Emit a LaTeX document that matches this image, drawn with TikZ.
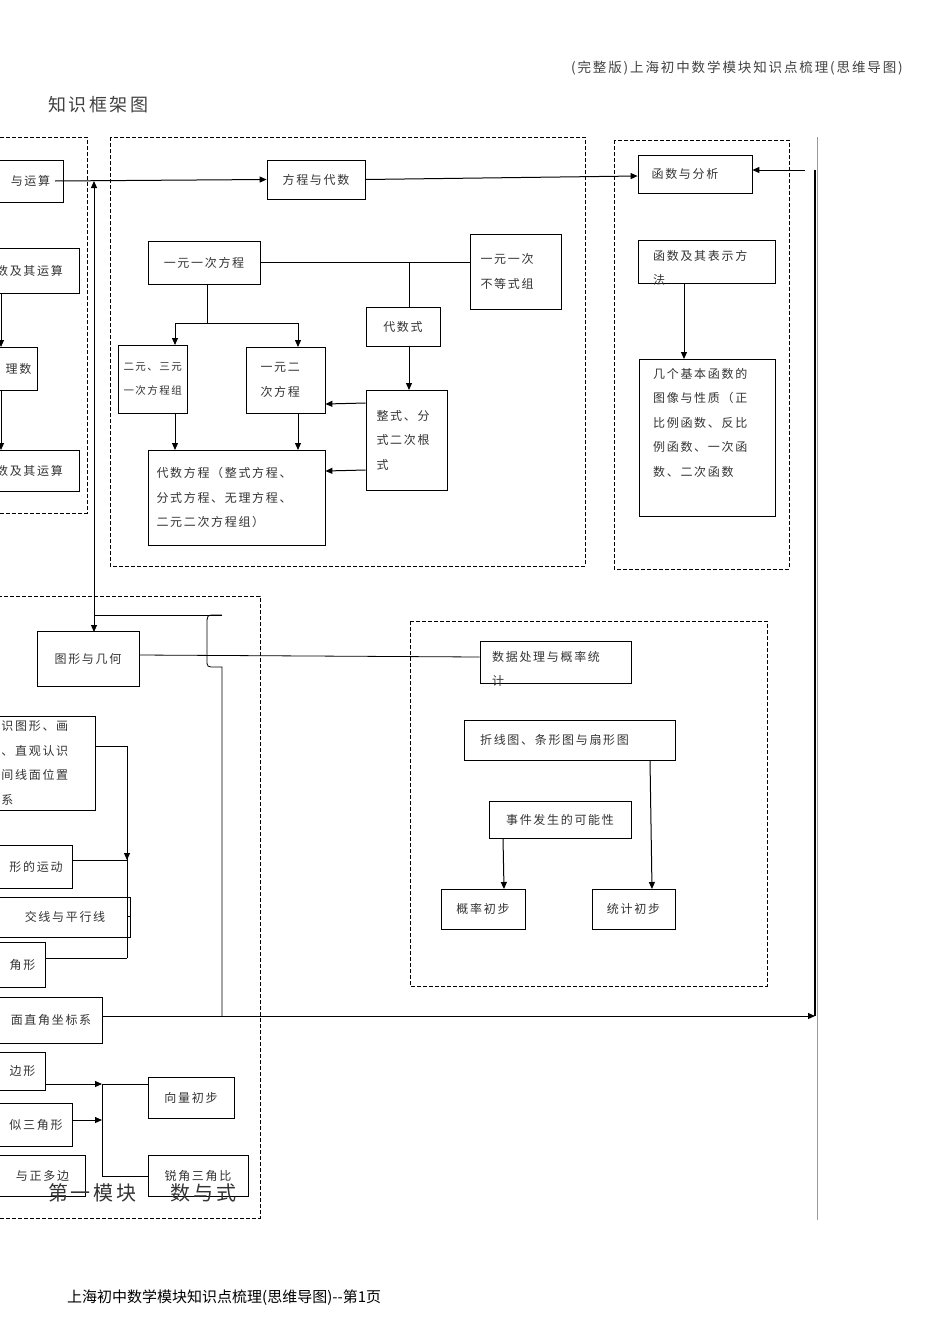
\documentclass[tikz,border=0pt]{standalone}
\usepackage{fontspec}
\setmainfont{Noto Sans CJK SC}
\newfontfamily\cjk{Noto Sans CJK SC}[LetterSpace=14]
\usetikzlibrary{arrows.meta}
\begin{document}
\begin{tikzpicture}[x=1pt,y=-1pt,
  box/.style={draw,line width=0.8pt,inner sep=0pt,font=\cjk\fontsize{12}{24.5}\selectfont\color{black!80}},
  dbox/.style={draw,dashed,line width=0.7pt,dash pattern=on 4pt off 2pt},
  ln/.style={line width=0.8pt},
  ar/.style={line width=1pt,-{Triangle[length=7pt,width=6pt]}},
  txt/.style={inner sep=0pt,font=\cjk\fontsize{12}{24.5}\selectfont\color{black!80},align=left}]
\newcommand\bx[6]{\node[box,minimum width={(#4-#2)*1pt},minimum height={(#5-#3)*1pt}] (#1) at ({(#2+#4)/2},{(#3+#5)/2}) {#6};}
\useasboundingbox (0,0) rectangle (950,1344);
\clip (0,0) rectangle (950,1344);
% titles
\node[anchor=east,inner sep=0pt,font=\cjk\fontsize{13.5}{16}\selectfont\color{black!75}] (hdr) at (903,68) {(完整版)上海初中数学模块知识点梳理(思维导图)};
\node[anchor=west,inner sep=0pt,font=\cjk\fontsize{18}{20}\selectfont\color{black!75}] (ttl) at (48,105) {知识框架图};
\node[anchor=west,inner sep=0pt,font=\fontsize{15}{18}\selectfont] (ftr) at (67,1298) {上海初中数学模块知识点梳理(思维导图)-{}-第1页};
% dashed frames
\draw[dbox] (-20,137) rectangle (87,513);
\draw[dbox] (110,137) rectangle (585,566);
\draw[dbox] (614,140) rectangle (789,569);
\draw[dbox] (-20,596) rectangle (260,1218);
\draw[dbox] (410,621) rectangle (767,986);
\draw[black!40,line width=0.6pt] (817,137) -- (817,1220);
% left column
\bx{ys}{-60}{160}{63}{202}{\hspace*{58pt}与运算}
\bx{s1}{-60}{248}{79}{293}{\hspace*{40pt}数及其运算}
\bx{s2}{-60}{347}{37}{390}{\hspace*{60pt}理数}
\bx{s3}{-60}{450}{79}{491}{\hspace*{40pt}数及其运算}
\draw[ar] (1,293) -- (1,347);
\draw[ar] (1,390) -- (1,450);
% equations
\bx{fc}{267}{160}{365}{199}{方程与代数}
\bx{yy}{148}{241}{260}{284}{一元一次方程}
\bx{bd}{470}{234}{561}{309}{\parbox{70pt}{一元一次\\不等式组}}
\bx{ds}{366}{307}{440}{346}{代数式}
\bx{zs}{366}{390}{447}{490}{\parbox{60pt}{整式、分\\式二次根\\式}}
\bx{ey}{118}{345}{187}{413}{\parbox{58pt}{\fontsize{10.5}{24.5}\selectfont 二元、三元\\一次方程组}}
\bx{ye}{246}{347}{325}{413}{\parbox{50pt}{一元二\\次方程}}
\bx{dsfc}{148}{450}{325}{545}{\parbox{160pt}{代数方程（整式方程、\\分式方程、无理方程、\\二元二次方程组）}}
\draw[ln] (yy.east) -- (bd.west|-yy.east);
\draw[ln] (409,262.5) -- (409,307);
\draw[ar] (409,346) -- (409,390);
\draw[ln] (207,284) -- (207,323);
\draw[ln] (175,323) -- (298,323);
\draw[ar] (175,323) -- (175,345);
\draw[ar] (298,323) -- (298,347);
\draw[ar] (175,413) -- (175,450);
\draw[ar] (298,413) -- (298,450);
\draw[ar] (zs.west|-0,403) -- (ye.east|-0,404);
\draw[ar] (zs.west|-0,470) -- (dsfc.east|-0,471);
% functions
\bx{hs}{638}{155}{752}{193}{\hspace*{-20pt}函数与分析}
\bx{hb}{638}{240}{775}{283}{}
\node[txt,anchor=north west] (hbt) at (653,250) {函数及其表示方\\法};
\bx{jg}{639}{359}{775}{516}{}
\node[txt,anchor=north west] (jgt) at (653,368) {几个基本函数的\\图像与性质（正\\比例函数、反比\\例函数、一次函\\数、二次函数};
\draw[ar] (684,283) -- (684,359);
\draw[ar] (55,181) -- (fc.west);
\draw[ar] (fc.east) -- (hs.west|-0,176);
% geometry
\bx{tx}{37}{631}{139}{686}{图形与几何}
\bx{g1}{-60}{716}{95}{810}{\parbox{152pt}{\hspace*{60pt}识图形、画\\\hspace*{60pt}、直观认识\\\hspace*{60pt}间线面位置\\\hspace*{60pt}系}}
\bx{g2}{-60}{845}{72}{888}{\hspace*{60pt}形的运动}
\bx{g3}{-60}{897}{130}{937}{\hspace*{60pt}交线与平行线}
\bx{g4}{-60}{942}{45}{987}{\hspace*{60pt}角形}
\bx{g5}{-60}{997}{102}{1043}{\hspace*{60pt}面直角坐标系}
\bx{g6}{-60}{1052}{45}{1090}{\hspace*{60pt}边形}
\bx{g7}{-60}{1103}{72}{1146}{\hspace*{60pt}似三角形}
\bx{g8}{-60}{1155}{85}{1196}{\hspace*{60pt}与正多边}
\bx{xl}{148}{1077}{234}{1118}{向量初步}
\bx{rj}{148}{1155}{248}{1196}{锐角三角比}
\draw[ar] (94,614) -- (94,181);
\draw[ar] (94,600) -- (94,632);
\draw[ln] (94,615) -- (222,615);
\draw[ln] (222,615) -- (215,615) .. controls (207,615) .. (207,625) -- (207,660) .. controls (207,667) .. (216,667) -- (222,667) -- (222,1016);
\draw[ar] (g5.east|-0,1016) -- (815,1016);
\draw[line width=1.6pt] (815,1016) -- (815,170);
\draw[ar] (805,170) -- (hs.east|-0,170);
\draw[ln] (g1.east|-0,746) -- (127,746) -- (127,958);
\draw[ar] (127,800) -- (127,860);
\draw[ln] (g2.east|-0,860) -- (127,860);
\draw[ln] (g3.east|-0,916) -- (127,916);
\draw[ln] (g4.east|-0,958) -- (127,958);
\draw[ar] (g6.east|-0,1084) -- (102,1084);
\draw[ar] (g7.east|-0,1120) -- (102,1120);
\draw[ln] (102,1084) -- (102,1176) -- (rj.west|-0,1176);
\draw[ln] (102,1084) -- (xl.west|-0,1084);
\node[anchor=west,inner sep=0pt,font=\cjk\fontsize{20}{22}\selectfont\color{black!80}] (mk) at (48,1193) {第一模块\hspace{34pt}数与式};
% data
\bx{sj}{480}{641}{631}{683}{}
\node[txt,anchor=north west] (sjt) at (492,651) {数据处理与概率统\\计};
\bx{zx}{464}{720}{675}{760}{\hspace*{-30pt}折线图、条形图与扇形图}
\bx{sk}{489}{801}{631}{838}{事件发生的可能性}
\bx{gl}{441}{889}{525}{929}{概率初步}
\bx{tj}{592}{889}{675}{929}{统计初步}
\draw[ln] (tx.east|-0,655) -- (sj.west|-0,657);
\draw[ar] (650,760) -- (652,889);
\draw[ar] (503,838) -- (504,889);
\end{tikzpicture}
\end{document}
